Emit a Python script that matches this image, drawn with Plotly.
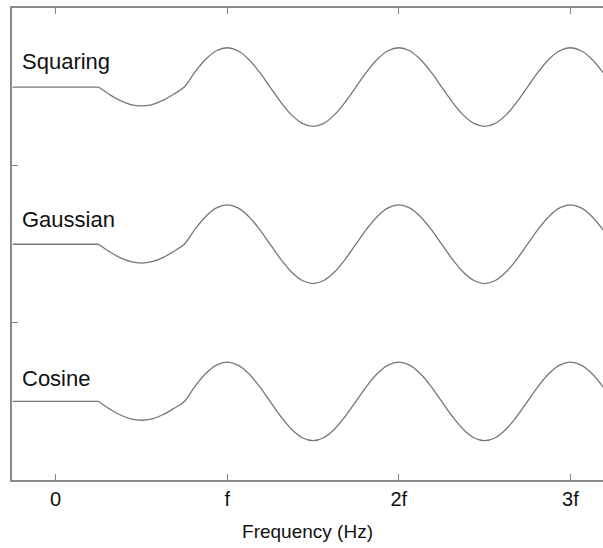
import plotly.graph_objects as go

# Frequency positions (in units of f)
freq = [-0.25, -0.1875, -0.125, -0.0625, 0.0, 0.0625, 0.125, 0.1875,
        0.25, 0.3125, 0.375, 0.4375, 0.5, 0.5625, 0.625, 0.6875, 0.75,
        0.8125, 0.875, 0.9375, 1.0, 1.0625, 1.125, 1.1875, 1.25,
        1.3125, 1.375, 1.4375, 1.5, 1.5625, 1.625, 1.6875, 1.75,
        1.8125, 1.875, 1.9375, 2.0, 2.0625, 2.125, 2.1875, 2.25,
        2.3125, 2.375, 2.4375, 2.5, 2.5625, 2.625, 2.6875, 2.75,
        2.8125, 2.875, 2.9375, 3.0, 3.0625, 3.125, 3.1875, 3.25]

squaring = [2.5, 2.5, 2.5, 2.5, 2.5, 2.5, 2.5, 2.5,
            2.5, 2.454, 2.415, 2.389, 2.38, 2.389, 2.415, 2.454, 2.5,
            2.596, 2.677, 2.731, 2.75, 2.731, 2.677, 2.596, 2.5,
            2.404, 2.323, 2.269, 2.25, 2.269, 2.323, 2.404, 2.5,
            2.596, 2.677, 2.731, 2.75, 2.731, 2.677, 2.596, 2.5,
            2.404, 2.323, 2.269, 2.25, 2.269, 2.323, 2.404, 2.5,
            2.596, 2.677, 2.731, 2.75, 2.731, 2.677, 2.596, 2.5]

gaussian = [1.5, 1.5, 1.5, 1.5, 1.5, 1.5, 1.5, 1.5,
            1.5, 1.454, 1.415, 1.389, 1.38, 1.389, 1.415, 1.454, 1.5,
            1.596, 1.677, 1.731, 1.75, 1.731, 1.677, 1.596, 1.5,
            1.404, 1.323, 1.269, 1.25, 1.269, 1.323, 1.404, 1.5,
            1.596, 1.677, 1.731, 1.75, 1.731, 1.677, 1.596, 1.5,
            1.404, 1.323, 1.269, 1.25, 1.269, 1.323, 1.404, 1.5,
            1.596, 1.677, 1.731, 1.75, 1.731, 1.677, 1.596, 1.5]

cosine = [0.5, 0.5, 0.5, 0.5, 0.5, 0.5, 0.5, 0.5,
          0.5, 0.454, 0.415, 0.389, 0.38, 0.389, 0.415, 0.454, 0.5,
          0.596, 0.677, 0.731, 0.75, 0.731, 0.677, 0.596, 0.5,
          0.404, 0.323, 0.269, 0.25, 0.269, 0.323, 0.404, 0.5,
          0.596, 0.677, 0.731, 0.75, 0.731, 0.677, 0.596, 0.5,
          0.404, 0.323, 0.269, 0.25, 0.269, 0.323, 0.404, 0.5,
          0.596, 0.677, 0.731, 0.75, 0.731, 0.677, 0.596, 0.5]

labels = ["Squaring", "Gaussian", "Cosine"]
label_y = [2.66, 1.655, 0.645]

x_tickvals = [0, 1, 2, 3]
x_ticktext = ["0", "f", "2f", "3f"]
y_tickvals = [1, 2]

FLAT_END = 8  # index where the flat part ends (f/4)

FONT = "Liberation Sans, Arial, sans-serif"

fig = go.Figure()
for series in (squaring, gaussian, cosine):
    fig.add_trace(go.Scatter(x=freq[:FLAT_END + 1], y=series[:FLAT_END + 1], mode="lines",
                             line=dict(color="#777777", width=1.3),
                             showlegend=False, hoverinfo="skip"))
    fig.add_trace(go.Scatter(x=freq[FLAT_END:], y=series[FLAT_END:], mode="lines",
                             line=dict(color="#777777", width=1.3, shape="spline", smoothing=1),
                             showlegend=False, hoverinfo="skip"))

for name, ly in zip(labels, label_y):
    fig.add_annotation(x=-0.207, y=ly, text=name, showarrow=False,
                       xanchor="left", yanchor="middle",
                       font=dict(family=FONT, size=22, color="#111111"))

fig.update_layout(
    width=603, height=548,
    margin=dict(l=12, r=0, t=8, b=68),
    plot_bgcolor="white", paper_bgcolor="white",
    font=dict(family=FONT, size=19, color="#111111"),
    xaxis=dict(range=[-0.254, 3.19], tickvals=x_tickvals, ticktext=x_ticktext,
               ticks="inside", ticklen=6, tickcolor="#888888", tickwidth=1.2,
               showline=True, linecolor="#888888", linewidth=1.5, mirror="ticks",
               showgrid=False, zeroline=False,
               title=dict(text="Frequency (Hz)", font=dict(size=19), standoff=16),
               tickfont=dict(size=20)),
    yaxis=dict(range=[0, 3.003], tickvals=y_tickvals, showticklabels=False,
               ticks="inside", ticklen=6, tickcolor="#888888", tickwidth=1.2,
               showline=True, linecolor="#888888", linewidth=1.5, mirror=False,
               showgrid=False, zeroline=False),
)

fig.write_html("out.html")
